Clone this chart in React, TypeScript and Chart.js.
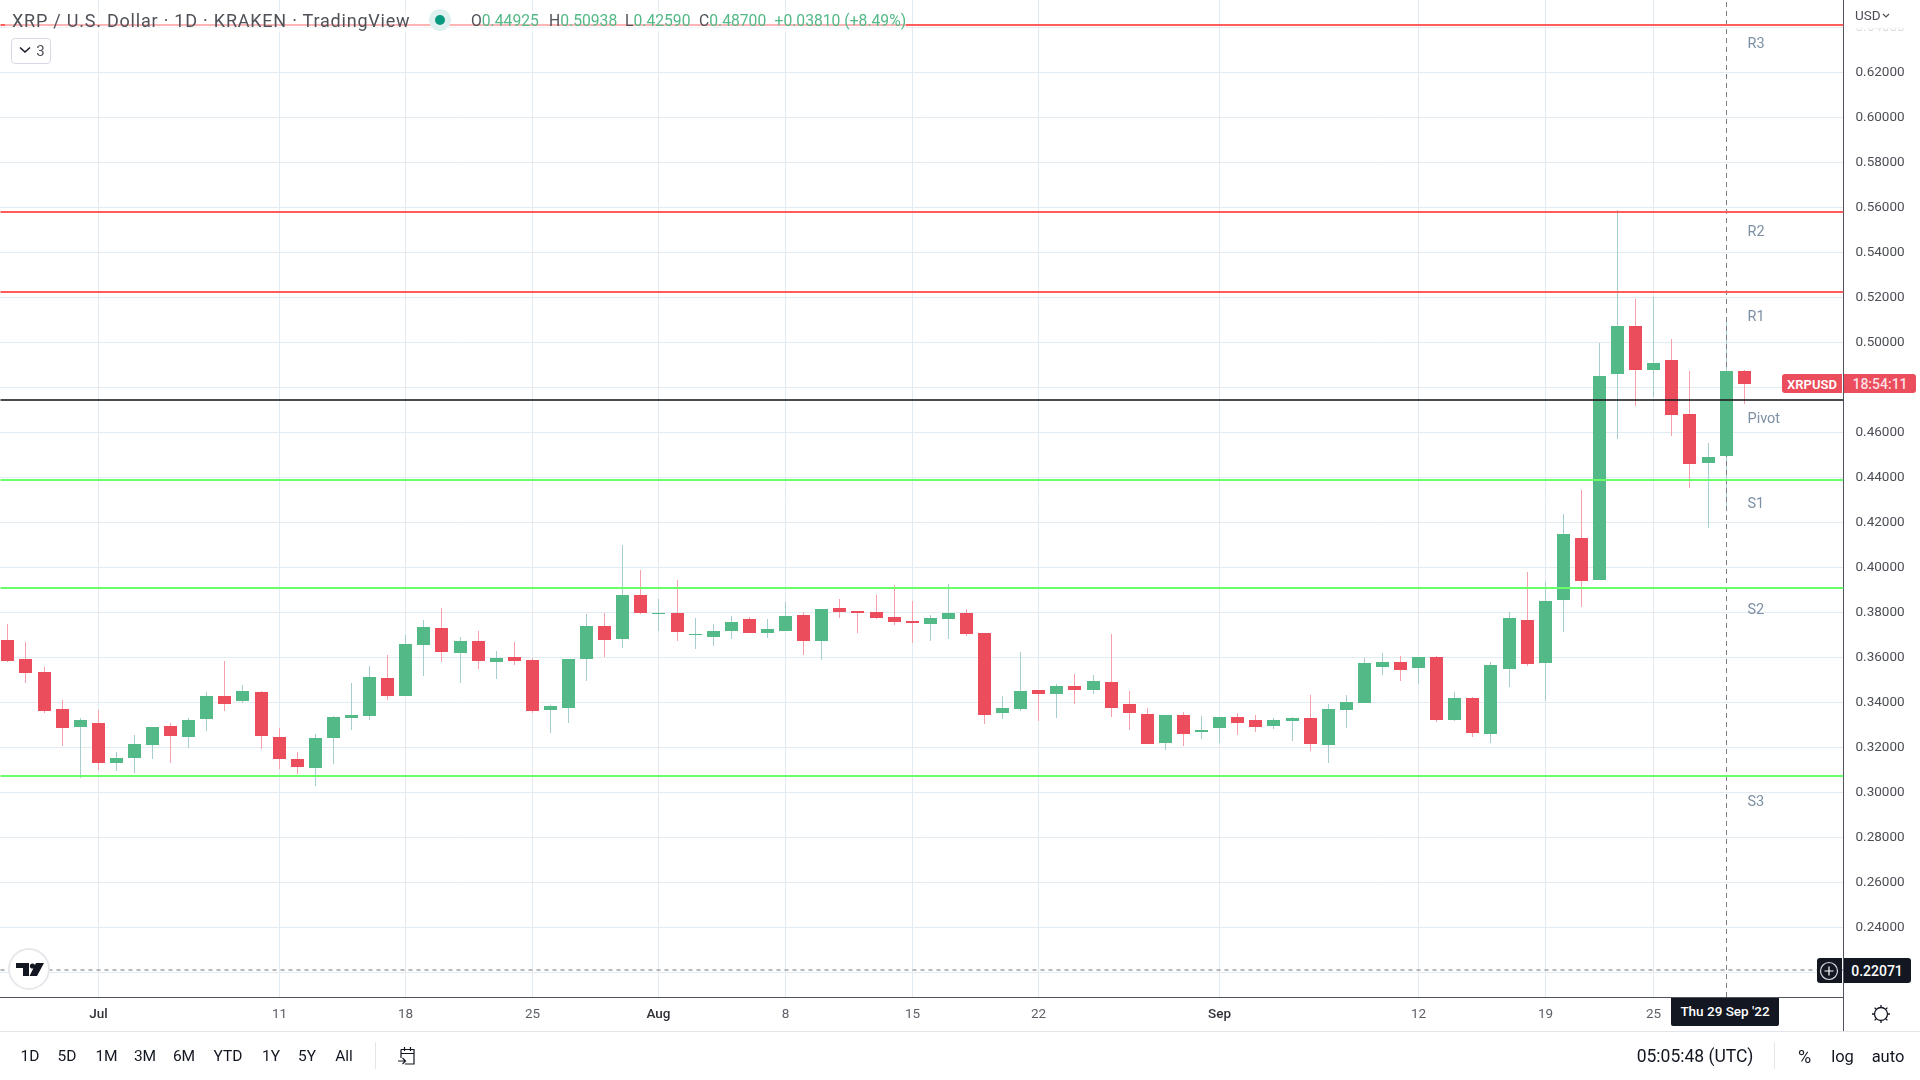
import React, { useEffect, useRef } from "react";
import { Chart, registerables, LinearScale } from "chart.js";

// ---------- data ----------
const opens = [.3677,.3592,.3534,.3370,.3290,.3308,.3130,.3152,.3210,.3294,.3246,.3325,.3428,.3405,.3445,.3246,.3148,.3108,.3241,.3330,.3339,.3508,.3428,.3654,.3730,.3619,.3672,.3579,.3601,.3588,.3366,.3374,.3592,.3739,.3681,.3877,.3792,.3797,.3699,.3690,.3717,.3770,.3708,.3717,.3788,.3672,.3819,.3806,.3801,.3779,.3761,.3748,.3770,.3797,.3708,.3351,.3369,.3453,.3435,.3471,.3453,.3489,.3391,.3346,.3218,.3342,.3266,.3284,.3333,.3320,.3293,.3315,.3329,.3209,.3364,.3395,.3555,.3578,.3551,.3600,.3320,.3418,.3259,.3548,.3765,.3574,.3854,.4129,.3943,.4858,.5071,.4875,.4920,.4680,.4462,.4492,.4871];
const highs = [.3748,.3668,.3557,.3410,.3330,.3365,.3179,.3254,.3290,.3308,.3330,.3445,.3583,.3477,.3450,.3285,.3179,.3259,.3339,.3485,.3561,.3610,.3699,.3765,.3819,.3690,.3716,.3628,.3668,.3597,.3388,.3592,.3792,.3797,.4099,.3988,.3859,.3943,.3774,.3748,.3783,.3779,.3770,.3846,.3801,.3814,.3859,.3806,.3877,.3921,.3850,.3788,.3926,.3814,.3708,.3426,.3622,.3453,.3480,.3524,.3520,.3702,.3449,.3373,.3342,.3355,.3338,.3333,.3351,.3342,.3329,.3333,.3431,.3391,.3431,.3595,.3618,.3604,.3600,.3604,.3444,.3422,.3579,.3801,.3979,.3934,.4235,.4342,.4995,.5587,.5191,.5200,.5013,.4871,.4551,.5094,.4875];
const lows = [.3579,.3485,.3352,.3205,.3063,.3099,.3094,.3085,.3148,.3130,.3197,.3272,.3361,.3397,.3192,.3103,.3081,.3028,.3125,.3277,.3321,.3410,.3428,.3517,.3579,.3485,.3548,.3503,.3566,.3352,.3263,.3308,.3494,.3601,.3641,.3792,.3717,.3672,.3637,.3650,.3681,.3708,.3686,.3717,.3610,.3588,.3774,.3708,.3770,.3743,.3663,.3672,.3681,.3694,.3303,.3324,.3360,.3315,.3329,.3391,.3435,.3333,.3275,.3213,.3186,.3204,.3235,.3218,.3253,.3266,.3280,.3226,.3182,.3129,.3284,.3395,.3520,.3493,.3480,.3311,.3315,.3244,.3219,.3468,.3561,.3405,.3712,.3823,.3943,.4569,.4715,.4755,.4582,.4351,.4173,.4259,.4724];
const closes = [.3583,.3530,.3361,.3285,.3321,.3130,.3152,.3214,.3290,.3250,.3321,.3428,.3392,.3450,.3250,.3148,.3112,.3241,.3334,.3343,.3512,.3428,.3659,.3734,.3623,.3672,.3583,.3597,.3583,.3361,.3383,.3592,.3739,.3677,.3877,.3797,.3797,.3712,.3703,.3717,.3757,.3708,.3726,.3783,.3672,.3814,.3801,.3797,.3774,.3757,.3752,.3774,.3797,.3703,.3343,.3373,.3449,.3435,.3471,.3453,.3493,.3373,.3351,.3213,.3342,.3258,.3275,.3333,.3306,.3289,.3320,.3329,.3213,.3369,.3400,.3573,.3578,.3542,.3600,.3320,.3418,.3262,.3565,.3774,.3570,.3850,.4147,.3939,.4849,.5071,.4875,.4907,.4675,.4458,.4489,.4870,.4813];

const dayTickIndexes = [5, 15, 22, 29, 36, 43, 50, 57, 67, 78, 85, 91];
const dayTickLabels = ["Jul", "11", "18", "25", "Aug", "8", "15", "22", "Sep", "12", "19", "25"];
const monthLabels = ["Jul", "Aug", "Sep"];
const priceTicks = [0.64, 0.62, 0.6, 0.58, 0.56, 0.54, 0.52, 0.5, 0.48, 0.46, 0.44, 0.42, 0.4, 0.38, 0.36, 0.34, 0.32, 0.3, 0.28, 0.26, 0.24, 0.22];

const resistanceLevels = [0.6409, 0.5578, 0.5222];
const pivotLevel = 0.4742;
const supportLevels = [0.4387, 0.3907, 0.3071];
const levelNames = ["R3", "R2", "R1", "Pivot", "S1", "S2", "S3"];
const levelNamePrices = [0.6324, 0.5490, 0.5112, 0.4659, 0.4281, 0.3810, 0.2956];
const levelNameIndex = 96.16;

const crosshairIndex = 95;
const crosshairPrice = 0.22071;

const xMin = -0.435;
const xMax = 101.49;
const yMin = 0.20889;
const yMax = 0.652;

const legendTitle = "XRP / U.S. Dollar · 1D · KRAKEN · TradingView";
const legendLabels = ["O", "H", "L", "C"];
const legendValues = ["0.44925", "0.50938", "0.42590", "0.48700"];
const legendChange = "+0.03810 (+8.49%)";
const rangeButtons = ["1D", "5D", "1M", "3M", "6M", "YTD", "1Y", "5Y", "All"];
const rangeCenters = [30, 67, 106.5, 145, 184, 228, 271, 307, 344];
const legendXs = [471, 549, 625, 699];

const GREEN = "#53b987";
const RED = "#eb4d5c";
const GREEN_WICK = "#a5cfcf";
const RED_WICK = "#f6a0ac";
const GRID = "#e2ebf1";
const FONT = "Roboto, sans-serif";

class SnapScale extends LinearScale {
  static id = "snap";
  static defaults = LinearScale.defaults;
  getPixelForValue(v: number) {
    const p = super.getPixelForValue(v);
    return this.isHorizontal() ? Math.round(p - 0.5) + 0.5 : Math.round(p);
  }
}
Chart.register(...registerables, SnapScale as any);

const levelNamePlugin = {
  id: "levelNames",
  afterDatasetsDraw(chart: any) {
    const { ctx, scales } = chart;
    ctx.save();
    ctx.font = `14.5px ${FONT}`;
    ctx.fillStyle = "#7c8fa3";
    ctx.textAlign = "left";
    ctx.textBaseline = "middle";
    levelNames.forEach((n, i) => {
      ctx.fillText(n, scales.x.getPixelForValue(levelNameIndex), scales.y.getPixelForValue(levelNamePrices[i]));
    });
    ctx.restore();
  },
};

function hLine(v: number, color: string, order: number, width = 2, dash: number[] = []) {
  return {
    type: "line",
    data: [{ x: xMin, y: v }, { x: xMax, y: v }],
    borderColor: color,
    borderWidth: width,
    borderDash: dash,
    pointRadius: 0,
    order,
  };
}

const T = ({ x, y, c = "#131722", s = 16, w = 400, a = "c", children, st }: any) => (
  <div
    style={{
      position: "absolute",
      left: x,
      top: y,
      transform: a === "c" ? "translate(-50%,-50%)" : "translate(0,-50%)",
      color: c,
      fontSize: s,
      fontWeight: w,
      fontFamily: FONT,
      whiteSpace: "nowrap",
      lineHeight: 1,
      ...st,
    }}
  >
    {children}
  </div>
);

const Box = ({ l, t, w, h, bg, st, children }: any) => (
  <div style={{ position: "absolute", left: l, top: t, width: w, height: h, background: bg, ...st }}>{children}</div>
);

export default function App() {
  const ref = useRef<HTMLCanvasElement>(null);
  useEffect(() => {
    const idx = opens.map((_, i) => i);
    const isUp = idx.map((i) => closes[i] >= opens[i]);
    const chart = new Chart(ref.current as any, {
      type: "bar",
      data: {
        datasets: [
          {
            data: idx.map((i) => ({ x: i, y: [lows[i], highs[i]] })),
            backgroundColor: isUp.map((u) => (u ? GREEN_WICK : RED_WICK)),
            barThickness: 1,
            grouped: false,
            inflateAmount: 0,
            order: 5,
          },
          {
            data: idx.map((i) => ({ x: i, y: [opens[i], closes[i]] })),
            backgroundColor: isUp.map((u) => (u ? GREEN : RED)),
            barThickness: 13,
            grouped: false,
            inflateAmount: 0,
            order: 4,
          },
          ...resistanceLevels.map((v) => hLine(v, "#ff5c5c", 3)),
          hLine(pivotLevel, "rgba(30,30,30,0.8)", 3),
          ...supportLevels.map((v) => hLine(v, "#69ff69", 3)),
          hLine(crosshairPrice, "#6f7278", 2, 1, [4, 4]),
          {
            type: "line",
            data: [{ x: crosshairIndex, y: yMin }, { x: crosshairIndex, y: yMax }],
            borderColor: "#7b7e85",
            borderWidth: 1,
            borderDash: [5, 4],
            pointRadius: 0,
            order: 4.5,
          },
        ] as any,
      },
      options: {
        animation: false,
        responsive: false,
        devicePixelRatio: 1,
        events: [],
        layout: { padding: 0 },
        plugins: { legend: { display: false }, tooltip: { enabled: false } },
        scales: {
          x: {
            type: "snap",
            min: xMin,
            max: xMax,
            offset: false,
            grid: { offset: false, color: GRID, lineWidth: 1, drawTicks: false },
            border: { color: "#50535e", width: 1 },
            afterFit: (a: any) => { a.height = 83; a.paddingLeft = 0; a.paddingRight = 0; },
            afterBuildTicks: (a: any) => { a.ticks = dayTickIndexes.map((value) => ({ value })); },
            ticks: {
              autoSkip: false,
              maxRotation: 0,
              minRotation: 0,
              padding: 10,
              callback: (_v: any, i: number) => dayTickLabels[i],
              color: (c: any) => (monthLabels.includes(dayTickLabels[c.index]) ? "#303238" : "#5c5f66"),
              font: (c: any) => ({ family: FONT, size: 13.5, weight: monthLabels.includes(dayTickLabels[c.index]) ? "500" : "400" }),
            },
          },
          y: {
            type: "snap",
            position: "right",
            min: yMin,
            max: yMax,
            grid: { color: GRID, lineWidth: 1, drawTicks: false },
            border: { color: "#50535e", width: 1 },
            afterFit: (a: any) => { a.width = 76.5; a.paddingTop = 0; a.paddingBottom = 0; },
            afterBuildTicks: (a: any) => { a.ticks = priceTicks.map((value) => ({ value })); },
            ticks: {
              autoSkip: false,
              padding: 12,
              labelOffset: 1,
              color: "#4b4e55",
              font: { family: FONT, size: 13.5 },
              callback: (v: any) => Number(v).toFixed(5),
            },
          },
        },
      } as any,
      plugins: [levelNamePlugin],
    });
    return () => chart.destroy();
  }, []);

  const dark = "#131722";
  return (
    <div style={{ position: "fixed", left: 0, top: 0, width: 1920, height: 1080, background: "#fff", overflow: "hidden" }}>
      <canvas ref={ref} width={1920} height={1080} style={{ position: "absolute", left: 0, top: 0, width: 1920, height: 1080 }} />

      {/* legend */}
      <Box l={5} t={11} w={901} h={21} bg="rgba(255,255,255,0.55)" />
      <T x={12} y={21} a="l" s={18} c="#4e5158" st={{ letterSpacing: 0.78 }}>{legendTitle}</T>
      <Box l={429} t={9} w={22} h={22} bg="#dff1ee" st={{ borderRadius: 11 }} />
      <Box l={435} t={15} w={10} h={10} bg="#089981" st={{ borderRadius: 5 }} />
      {legendLabels.map((l, i) => (
        <T key={l} x={legendXs[i]} y={21} a="l" s={15.7} c="#4e5158">
          {l}<span style={{ color: GREEN }}>{legendValues[i]}</span>
        </T>
      ))}
      <T x={774.5} y={21} a="l" s={15.7} c={GREEN}>{legendChange}</T>
      <Box l={11} t={38} w={38} h={24} st={{ border: "1px solid #d6dae3", borderRadius: 4 }} />
      <svg style={{ position: "absolute", left: 19, top: 46 }} width="12" height="8"><path d="M1 1.5 L6 6 L11 1.5" fill="none" stroke="#131722" strokeWidth="1.5" /></svg>
      <T x={40.5} y={51} s={15} c="#4e5158">3</T>

      {/* price axis top fade and currency */}
      <Box l={1845} t={0} w={75} h={33} st={{ background: "linear-gradient(#fff 82%, rgba(255,255,255,0.6))" }} />
      <T x={1855} y={16} a="l" s={13.5} c="#4b4e55">USD</T>
      <svg style={{ position: "absolute", left: 1882, top: 13 }} width="8" height="6"><path d="M1 1 L4 4 L7 1" fill="none" stroke="#4b4e55" strokeWidth="1.2" /></svg>

      {/* last price label */}
      <Box l={1782} t={374} w={60} h={19} bg={RED} st={{ borderRadius: "3px 0 0 3px" }} />
      <T x={1812} y={383.5} s={13} w={600} c="#fff">XRPUSD</T>
      <Box l={1843.5} t={374} w={72} h={19} bg={RED} st={{ borderRadius: "0 3px 3px 0" }} />
      <T x={1880} y={383.5} s={14} w={500} c="#fbdfe2">18:54:11</T>

      {/* crosshair labels */}
      <Box l={1817} t={958} w={25} h={25} bg={dark} st={{ borderRadius: "3px 0 0 3px" }} />
      <svg style={{ position: "absolute", left: 1819, top: 961 }} width="20" height="20">
        <circle cx="10" cy="10" r="8.5" fill="none" stroke="#d8dade" strokeWidth="1.2" />
        <path d="M10 5.5 V14.5 M5.5 10 H14.5" stroke="#fff" strokeWidth="1.2" />
      </svg>
      <Box l={1843.5} t={958} w={67} h={25} bg={dark} st={{ borderRadius: "0 3px 3px 0" }} />
      <T x={1877} y={970.5} s={14} w={500} c="#fff">0.22071</T>
      <Box l={1671} t={997.5} w={108} h={28} bg={dark} st={{ borderRadius: "0 0 2px 2px" }} />
      <T x={1725} y={1012} s={13.5} w={500} c="#fff">Thu 29 Sep '22</T>

      {/* logo */}
      <Box l={8} t={948} w={38} h={38} bg="#fff" st={{ borderRadius: 21, border: "2px solid #e6e8ec" }} />
      <svg style={{ position: "absolute", left: 15, top: 961 }} width="30" height="16">
        <path d="M1 2 H14 V15 H8 V7 H1 Z M21 2 H29 L22 15 H14.5 Z" fill="#131722" />
        <circle cx="17.5" cy="5" r="2.6" fill="#131722" />
      </svg>

      {/* axis extensions and toolbar rules */}
      <Box l={1843} t={997} w={1} h={34} bg="#50535e" />
      <Box l={0} t={1030.5} w={1920} h={1.5} bg="#e3e5ea" />
      <svg style={{ position: "absolute", left: 1871, top: 1004 }} width="20" height="20">
        <circle cx="10" cy="10" r="6.5" fill="none" stroke="#131722" strokeWidth="1.3" />
        <path d="M10 1V3.5M10 16.5V19M1 10H3.5M16.5 10H19M3.6 3.6L5.4 5.4M14.6 14.6L16.4 16.4M3.6 16.4L5.4 14.6M14.6 5.4L16.4 3.6" stroke="#131722" strokeWidth="1.3" />
      </svg>

      {/* bottom toolbar */}
      {rangeButtons.map((b, i) => (
        <T key={b} x={rangeCenters[i]} y={1056.5} s={15.5}>{b}</T>
      ))}
      <Box l={375} t={1042} w={1} h={27} bg="#e3e5ea" />
      <svg style={{ position: "absolute", left: 397, top: 1046 }} width="20" height="20">
        <path d="M4 3.5H17V18H8 M4 3.5V12 M4 7.5H17 M7.5 1V5 M13.5 1V5 M1 15H8 M5.5 12L8.5 15L5.5 18" fill="none" stroke="#131722" strokeWidth="1.2" />
      </svg>
      <T x={1695} y={1056.5} s={17.5}>05:05:48 (UTC)</T>
      <Box l={1774} t={1042} w={1} h={27} bg="#e3e5ea" />
      <T x={1804.5} y={1056.5} s={18}>%</T>
      <T x={1842.5} y={1056.5} s={16.5}>log</T>
      <T x={1888} y={1056.5} s={16.5}>auto</T>
    </div>
  );
}
